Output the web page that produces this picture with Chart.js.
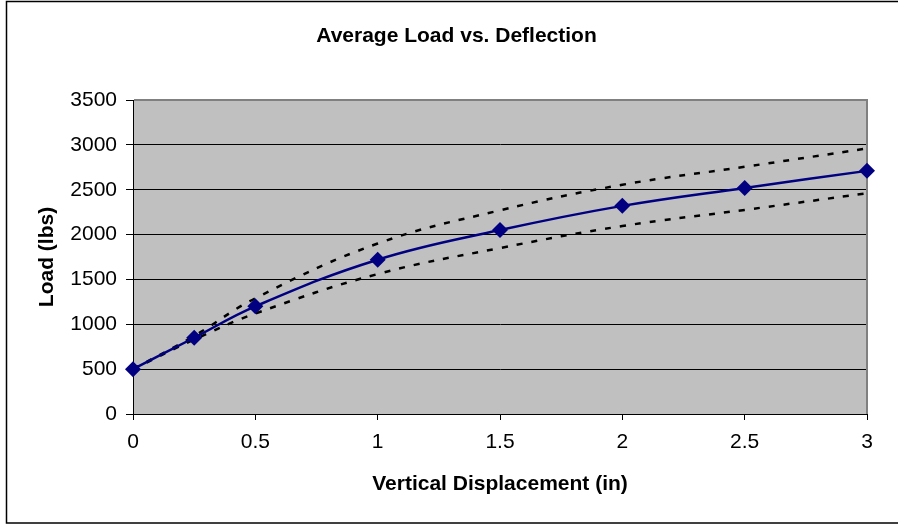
<!DOCTYPE html>
<html>
<head>
<meta charset="utf-8">
<script src="https://cdn.jsdelivr.net/npm/chart.js@4/dist/chart.umd.min.js"></script>
<style>
  html, body { margin: 0; padding: 0; background: #fff; }
  #chart { display: block; }
</style>
</head>
<body>
<canvas id="chart" width="898" height="525"></canvas>
<script>
const displacement = [0, 0.25, 0.5, 1, 1.5, 2, 2.5, 3];
const averageLoad = [500, 850, 1200, 1720, 2050, 2320, 2520, 2710];
const upperLoad = [500, 870, 1290, 1900, 2270, 2555, 2755, 2960];
const lowerLoad = [500, 830, 1120, 1560, 1850, 2095, 2275, 2460];

const FONT = "'Liberation Sans', Arial, sans-serif";

function toPoints(values) {
  return displacement.map((x, i) => ({ x, y: values[i] }));
}

// gray plot background, gray top/right frame, outer chart border
const plotFrame = {
  id: 'plotFrame',
  beforeDraw(chart) {
    const { ctx, chartArea: a } = chart;
    ctx.save();
    ctx.fillStyle = '#c0c0c0';
    ctx.fillRect(a.left, a.top, a.right - a.left, a.bottom - a.top);
    ctx.restore();
  },
  beforeDatasetsDraw(chart) {
    const { ctx, chartArea: a } = chart;
    ctx.save();
    ctx.strokeStyle = '#808080';
    ctx.lineWidth = 2;
    ctx.beginPath();
    ctx.moveTo(a.left + 1, a.top);
    ctx.lineTo(a.right, a.top);
    ctx.lineTo(a.right, a.bottom);
    ctx.stroke();
    ctx.restore();
  },
  afterDraw(chart) {
    const { ctx } = chart;
    ctx.save();
    ctx.strokeStyle = '#000';
    ctx.lineWidth = 1.5;
    ctx.strokeRect(6.5, 1.5, 900, 521.5);
    ctx.restore();
  }
};

new Chart(document.getElementById('chart'), {
  type: 'scatter',
  data: {
    datasets: [
      {
        label: 'Average Load',
        data: toPoints(averageLoad),
        showLine: true,
        borderColor: '#000080',
        backgroundColor: '#000080',
        borderWidth: 2.5,
        pointStyle: 'rectRot',
        pointRadius: 8,
        pointBorderWidth: 0,
        tension: 0.4,
        clip: false,
        order: 0
      },
      {
        label: 'Upper',
        data: toPoints(upperLoad),
        showLine: true,
        borderColor: '#000',
        borderWidth: 2.5,
        borderDash: [6, 9],
        pointRadius: 0,
        tension: 0.4,
        clip: false,
        order: 1
      },
      {
        label: 'Lower',
        data: toPoints(lowerLoad),
        showLine: true,
        borderColor: '#000',
        borderWidth: 2.5,
        borderDash: [6, 9],
        pointRadius: 0,
        tension: 0.4,
        clip: false,
        order: 1
      }
    ]
  },
  options: {
    responsive: false,
    animation: false,
    layout: {
      padding: { left: 15, right: 0, top: 0, bottom: 0 }
    },
    plugins: {
      legend: { display: false },
      tooltip: { enabled: false },
      title: {
        display: true,
        text: 'Average Load vs. Deflection',
        color: '#000',
        font: { family: FONT, size: 21, weight: 'bold', lineHeight: 1.2 },
        padding: { top: 24, bottom: 50.8 }
      }
    },
    scales: {
      x: {
        type: 'linear',
        min: 0,
        max: 3,
        afterFit: (scale) => {
          scale.height = 111;
          scale.paddingRight = 31;
        },
        ticks: {
          stepSize: 0.5,
          color: '#000',
          padding: 10,
          font: { family: FONT, size: 21 },
          maxRotation: 0,
          callback: (value) => String(value)
        },
        grid: {
          drawOnChartArea: false,
          drawTicks: true,
          tickLength: 6,
          color: '#000'
        },
        border: { display: true, color: '#000', width: 1 },
        title: {
          display: true,
          text: 'Vertical Displacement (in)',
          color: '#000',
          font: { family: FONT, size: 21, weight: 'bold', lineHeight: 1.2 },
          padding: { top: 0, bottom: 28.4 }
        }
      },
      y: {
        type: 'linear',
        min: 0,
        max: 3500,
        afterFit: (scale) => { scale.width = 118; },
        ticks: {
          stepSize: 500,
          color: '#000',
          padding: 9,
          font: { family: FONT, size: 21 },
          callback: (value) => String(value)
        },
        grid: {
          drawOnChartArea: true,
          drawTicks: true,
          tickLength: 7,
          color: '#000',
          lineWidth: 1
        },
        border: { display: true, color: '#000', width: 1 },
        title: {
          display: true,
          text: 'Load (lbs)',
          color: '#000',
          font: { family: FONT, size: 21, weight: 'bold', lineHeight: 1.2 },
          padding: { top: 19.4, bottom: 0 }
        }
      }
    }
  },
  plugins: [plotFrame]
});
</script>
</body>
</html>
